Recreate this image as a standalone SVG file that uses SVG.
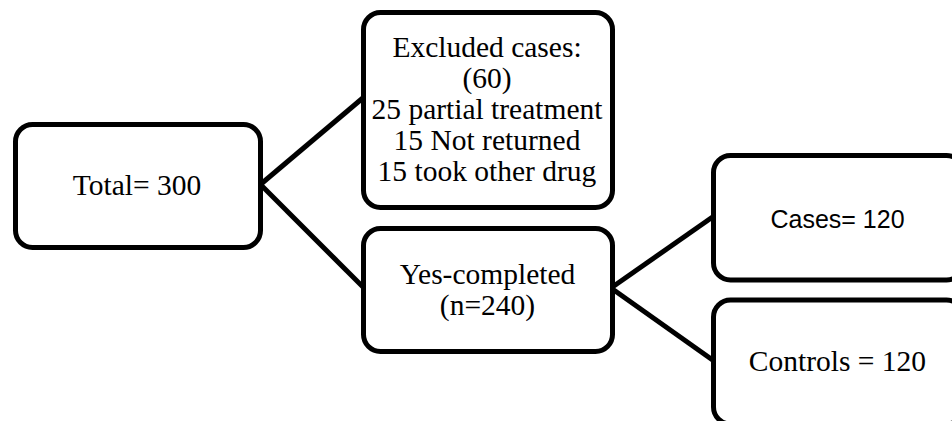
<svg xmlns="http://www.w3.org/2000/svg" width="952" height="421" viewBox="0 0 952 421">
<style>
.box{fill:#fff;stroke:#000;stroke-width:5}
.conn{stroke:#000;stroke-width:5;fill:none}
.t{font-family:"Liberation Serif","Times New Roman",serif;font-size:29.5px;fill:#000;text-anchor:middle}
.s{font-family:"Liberation Sans",Arial,sans-serif;font-size:25px;fill:#000;text-anchor:middle}
</style>
<rect width="952" height="421" fill="#fff"/>
<g id="connectors">
<line class="conn" x1="261" y1="184" x2="364" y2="97"/>
<line class="conn" x1="261" y1="185" x2="364" y2="288"/>
<line class="conn" x1="611" y1="288" x2="714" y2="216"/>
<line class="conn" x1="611" y1="288" x2="714" y2="361"/>
</g>
<g id="total">
<rect class="box" x="15.5" y="124.5" width="245" height="123" rx="17"/>
<text class="t" x="137" y="195">Total= 300</text>
</g>
<g id="excluded">
<rect class="box" x="363.5" y="12.5" width="249" height="195" rx="17"/>
<text class="t" x="487" y="57">Excluded cases:</text>
<text class="t" x="487" y="88">(60)</text>
<text class="t" x="487" y="119">25 partial treatment</text>
<text class="t" x="487" y="150">15 Not returned</text>
<text class="t" x="487" y="180.5">15 took other drug</text>
</g>
<g id="completed">
<rect class="box" x="363.5" y="228.5" width="249" height="123" rx="17"/>
<text class="t" x="487.5" y="283.5">Yes-completed</text>
<text class="t" x="487.5" y="315">(n=240)</text>
</g>
<g id="cases">
<rect class="box" x="713.5" y="155.5" width="250" height="124.5" rx="17"/>
<text class="s" x="837.5" y="227.5">Cases= 120</text>
</g>
<g id="controls">
<rect class="box" x="713.5" y="300" width="250" height="124" rx="17"/>
<text class="t" x="837.5" y="371">Controls = 120</text>
</g>
</svg>
